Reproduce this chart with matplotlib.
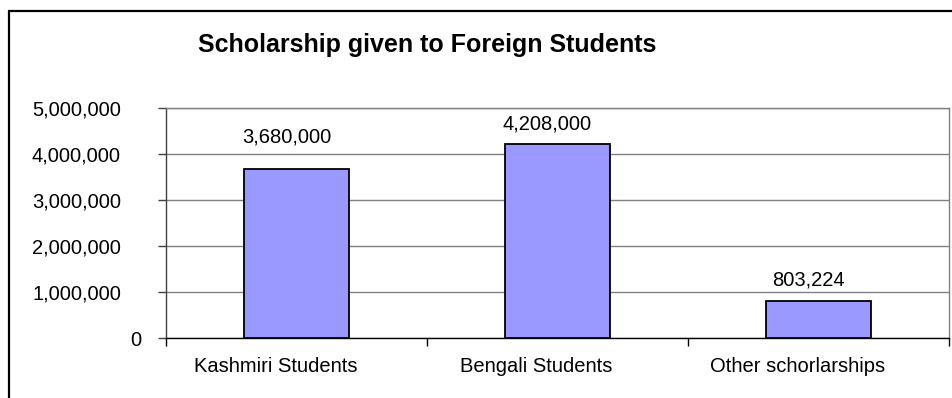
import numpy as np
import matplotlib
matplotlib.use('Agg')
import matplotlib.pyplot as plt
import matplotlib.transforms as mtransforms
from matplotlib.patches import Rectangle
from matplotlib.ticker import FuncFormatter

categories = ['Kashmiri Students', 'Bengali Students', 'Other schorlarships']
amounts = [3680000, 4208000, 803224]
yticks = [0, 1000000, 2000000, 3000000, 4000000, 5000000]

plt.rcParams['font.family'] = ['Liberation Sans', 'DejaVu Sans']

W, H = 952, 398
fig = plt.figure(figsize=(W / 100, H / 100), dpi=100)
ax = fig.add_axes([166 / W, 1 - 338 / H, (949 - 166) / W, (338 - 108) / H])

x = np.arange(len(categories))
ax.bar(x, amounts, width=0.4, color='#9999FF', edgecolor='black', linewidth=1.3, zorder=3)

ax.set_xlim(-0.5, len(categories) - 0.5)
ax.set_ylim(0, 5000000)
ax.set_yticks(yticks)
ax.yaxis.set_major_formatter(FuncFormatter(lambda v, p: f'{int(v):,}'))
ax.grid(axis='y', color='#808080', linewidth=1, zorder=0)

# category ticks sit between the bars
ax.set_xticks(np.arange(-0.5, len(categories), 1.0))
ax.set_xticklabels([])
ax.set_xticks(x, minor=True)
ax.set_xticklabels(categories, minor=True, fontsize=14.5)
ax.tick_params(axis='x', which='minor', length=0, pad=14)
ax.tick_params(axis='x', which='major', length=6, width=1, color='black', direction='out')
ax.tick_params(axis='y', length=6, width=1, color='#404040', labelsize=14.5, pad=12)

shift_x = mtransforms.ScaledTranslation(-21 / 100, 0, fig.dpi_scale_trans)
for lab in ax.get_xticklabels(minor=True):
    lab.set_transform(lab.get_transform() + shift_x)
shift_y = mtransforms.ScaledTranslation(-20 / 100, 0, fig.dpi_scale_trans)
for lab, v in zip(ax.get_yticklabels(), yticks):
    if v != 0:
        lab.set_transform(lab.get_transform() + shift_y)

for s in ['top', 'right']:
    ax.spines[s].set_color('#808080')
ax.spines['left'].set_color('#404040')
ax.spines['bottom'].set_color('black')
for s in ax.spines.values():
    s.set_linewidth(1)

# label gap above each bar (pixels)
gaps = [26, 15, 16]
for xi, v, g in zip(x, amounts, gaps):
    ax.annotate(f'{v:,}', (xi, v), xytext=(-10, g), textcoords='offset pixels',
                ha='center', va='baseline', fontsize=14.5)

fig.text(198 / W, 1 - 52 / H, 'Scholarship given to Foreign Students',
         fontsize=18, fontweight='bold', ha='left', va='baseline')

fig.patches.append(Rectangle((9 / W, -0.1), 1.2, 1.1 - 11 / H, transform=fig.transFigure,
                             fill=False, edgecolor='black', linewidth=1.6))

fig.savefig('out.png', dpi=100)
